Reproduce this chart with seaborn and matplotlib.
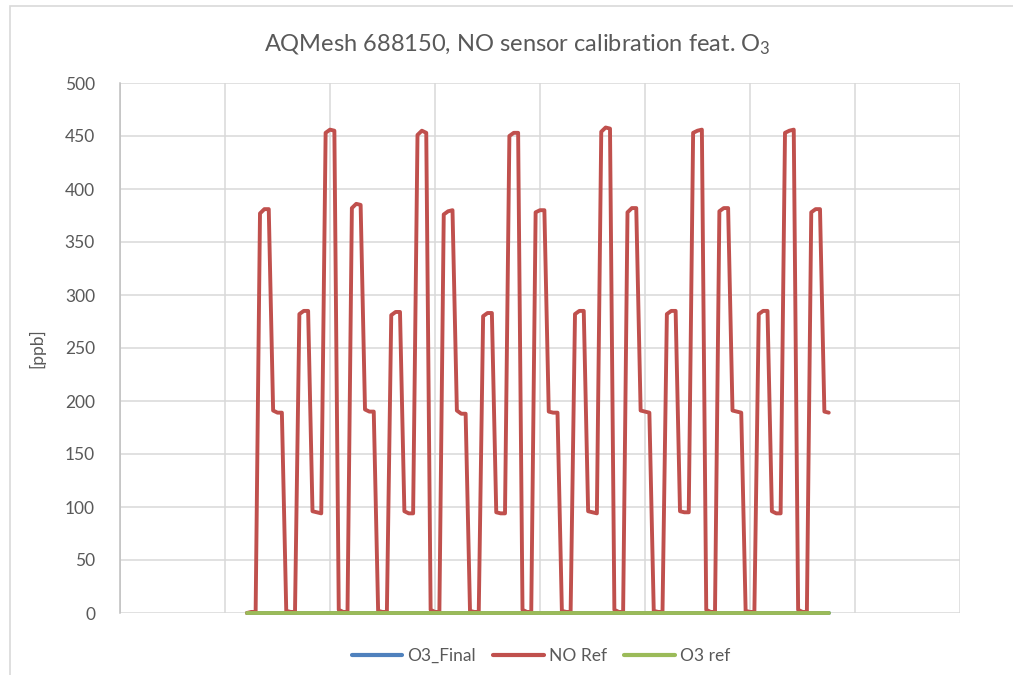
import numpy as np
import pandas as pd
import matplotlib.pyplot as plt
import matplotlib.patches as mpatches
import seaborn as sns

# sample index (x axis has no labels, gridline every 24 samples)
time_idx = list(range(29, 163))

# NO reference concentration [ppb]
no_ref = [
    0, 1, 1,
    377, 381, 381, 191, 189, 189, 2, 1, 1, 282, 285, 285, 96, 95, 94, 453, 456, 455, 3, 1, 1,
    382, 386, 385, 192, 190, 190, 2, 1, 1, 281, 284, 284, 96, 94, 94, 451, 455, 453, 3, 1, 1,
    376, 379, 380, 191, 188, 188, 2, 1, 1, 280, 283, 283, 95, 94, 94, 450, 453, 453, 3, 1, 1,
    378, 380, 380, 190, 189, 189, 2, 1, 1, 282, 285, 285, 96, 95, 94, 454, 458, 457, 3, 1, 1,
    378, 382, 382, 191, 190, 189, 2, 1, 1, 282, 285, 285, 96, 95, 95, 453, 455, 456, 3, 1, 1,
    379, 382, 382, 191, 190, 189, 2, 1, 1, 282, 285, 285, 96, 94, 94, 453, 455, 456, 3, 1, 1,
    378, 381, 381, 190, 189,
]
# ozone series sit on zero for the whole test
o3_final = [0.0] * len(time_idx)
o3_ref = [0.0] * len(time_idx)

series_names = ["O3_Final", "NO Ref", "O3 ref"]
series_colors = ["#4F81BD", "#C0504D", "#9BBB59"]
y_ticks = [0, 50, 100, 150, 200, 250, 300, 350, 400, 450, 500]

df = pd.concat([
    pd.DataFrame({"t": time_idx, "ppb": o3_final, "series": "O3_Final"}),
    pd.DataFrame({"t": time_idx, "ppb": no_ref, "series": "NO Ref"}),
    pd.DataFrame({"t": time_idx, "ppb": o3_ref, "series": "O3 ref"}),
])

sns.set_style("white")
plt.rcParams["font.family"] = ["Lato", "DejaVu Sans"]
plt.rcParams["mathtext.default"] = "regular"
plt.rcParams["lines.solid_joinstyle"] = "round"
plt.rcParams["lines.solid_capstyle"] = "round"

txt = "#595959"
grid = "#D9D9D9"

fig = plt.figure(figsize=(10.13, 6.75), dpi=100)
ax = fig.add_axes([120 / 1013, 1 - 613 / 675, 840 / 1013, 530 / 675])

# chart area border
fig.patches.append(mpatches.Rectangle((10 / 1013, -0.1), 1.2, 1 - 6 / 675 + 0.1,
                                      transform=fig.transFigure, fill=False,
                                      edgecolor=grid, linewidth=1.2, zorder=0))

sns.lineplot(data=df, x="t", y="ppb", hue="series", hue_order=series_names,
             palette=series_colors, linewidth=2.8, ax=ax, estimator=None, sort=False)
for line in ax.get_lines():
    line.set_clip_on(False)

ax.set_xlim(0, 192)
ax.set_ylim(0, 500)
ax.set_xticks(range(0, 193, 24))
ax.set_xticklabels([])
ax.set_yticks(y_ticks)
ax.set_yticklabels([str(v) for v in y_ticks])
ax.tick_params(axis="x", length=0)
ax.tick_params(axis="y", length=0, labelsize=12.5, labelcolor=txt, pad=18)
ax.grid(True, color=grid, linewidth=1.1)
ax.set_axisbelow(True)
for s in ["top", "right", "bottom"]:
    ax.spines[s].set_visible(False)
ax.spines["left"].set_color("#BFBFBF")
ax.spines["left"].set_linewidth(1.1)

ax.set_xlabel("")
ax.set_ylabel("[ppb]", fontsize=12.5, color=txt, labelpad=14)

fig.text(0.511, 1 - 45 / 675, "AQMesh 688150, NO sensor calibration feat. O$_3$",
         ha="center", va="center", fontsize=17, color=txt)

handles, labels = ax.get_legend_handles_labels()
ax.legend(handles, labels, loc="center", bbox_to_anchor=(0.534, 1 - 656 / 675),
          bbox_transform=fig.transFigure, ncol=3, frameon=False, fontsize=12.5,
          labelcolor=txt, handlelength=2.9, handletextpad=0.3, columnspacing=1.0)
for line in ax.get_legend().get_lines():
    line.set_linewidth(3)

fig.savefig("out.png", dpi=100, facecolor="white")
